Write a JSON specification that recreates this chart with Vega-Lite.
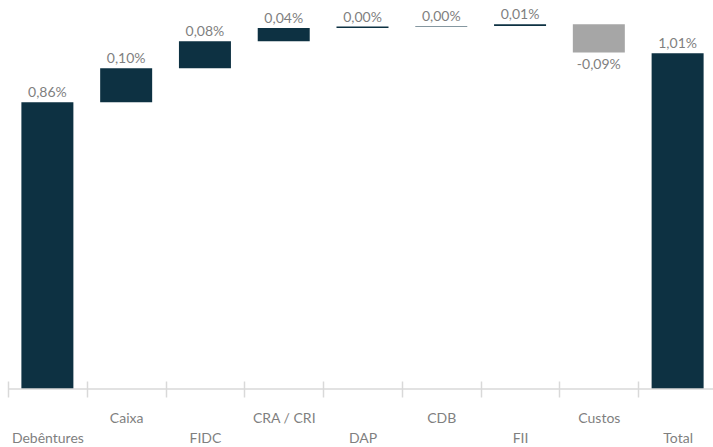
{
  "$schema": "https://vega.github.io/schema/vega-lite/v6.json",
  "width": 709,
  "height": 389,
  "autosize": {"type": "none"},
  "padding": {"left": 8, "top": 0, "right": 0, "bottom": 58},
  "background": "white",
  "config": {"view": {"stroke": null}, "font": "Lato"},
  "data": {
    "values": [
      {"cat": "Debêntures", "start": 0, "end": 0.86, "label": "0,86%", "kind": "total"},
      {"cat": "Caixa", "start": 0.86, "end": 0.962, "label": "0,10%", "kind": "up"},
      {"cat": "FIDC", "start": 0.962, "end": 1.043, "label": "0,08%", "kind": "up"},
      {"cat": "CRA / CRI", "start": 1.043, "end": 1.083, "label": "0,04%", "kind": "up"},
      {"cat": "DAP", "start": 1.083, "end": 1.087, "label": "0,00%", "kind": "up"},
      {"cat": "CDB", "start": 1.087, "end": 1.089, "label": "0,00%", "kind": "up"},
      {"cat": "FII", "start": 1.089, "end": 1.094, "label": "0,01%", "kind": "up"},
      {"cat": "Custos", "start": 1.094, "end": 1.009, "label": "-0,09%", "kind": "down"},
      {"cat": "Total", "start": 0, "end": 1.007, "label": "1,01%", "kind": "total"}
    ]
  },
  "layer": [
    {
      "mark": {"type": "bar", "width": {"band": 0.66}},
      "encoding": {
        "x": {
          "field": "cat",
          "type": "nominal",
          "sort": null,
          "scale": {"paddingInner": 0, "paddingOuter": 0},
          "axis": {
            "title": null,
            "labelAngle": 0,
            "labelFont": "Lato",
            "labelFontSize": 14,
            "labelColor": "#7f7f7f",
            "labelBaseline": "top",
            "labelPadding": {
              "condition": {"test": "indexof(['Caixa','CRA / CRI','CDB','Custos'], datum.value) >= 0", "value": 14},
              "value": 34
            },
            "offset": -8,
            "domain": false,
            "tickBand": "extent",
            "tickSize": 16,
            "tickColor": "#d9d9d9",
            "tickWidth": 1.5,
            "labelOverlap": false
          }
        },
        "y": {"field": "start", "type": "quantitative", "scale": {"domain": [0, 1.1668], "nice": false, "zero": false}, "axis": null},
        "y2": {"field": "end"},
        "color": {
          "field": "kind",
          "type": "nominal",
          "scale": {"domain": ["total", "up", "down"], "range": ["#0d3142", "#0d3142", "#a6a6a6"]},
          "legend": null
        }
      }
    },
    {
      "transform": [{"filter": "datum.cat == 'Debêntures'"}],
      "mark": {"type": "rule", "color": "#d9d9d9", "strokeWidth": 1.5},
      "encoding": {
        "y": {"field": "start", "type": "quantitative"}
      }
    },
    {
      "transform": [{"filter": "datum.kind != 'down'"}],
      "mark": {"type": "text", "baseline": "bottom", "dy": -2, "font": "Lato", "fontSize": 14, "color": "#7f7f7f"},
      "encoding": {
        "x": {"field": "cat", "type": "nominal", "sort": null},
        "y": {"field": "end", "type": "quantitative"},
        "text": {"field": "label"}
      }
    },
    {
      "transform": [{"filter": "datum.kind == 'down'"}],
      "mark": {"type": "text", "baseline": "top", "dy": 5, "font": "Lato", "fontSize": 14, "color": "#7f7f7f"},
      "encoding": {
        "x": {"field": "cat", "type": "nominal", "sort": null},
        "y": {"field": "end", "type": "quantitative"},
        "text": {"field": "label"}
      }
    }
  ]
}
